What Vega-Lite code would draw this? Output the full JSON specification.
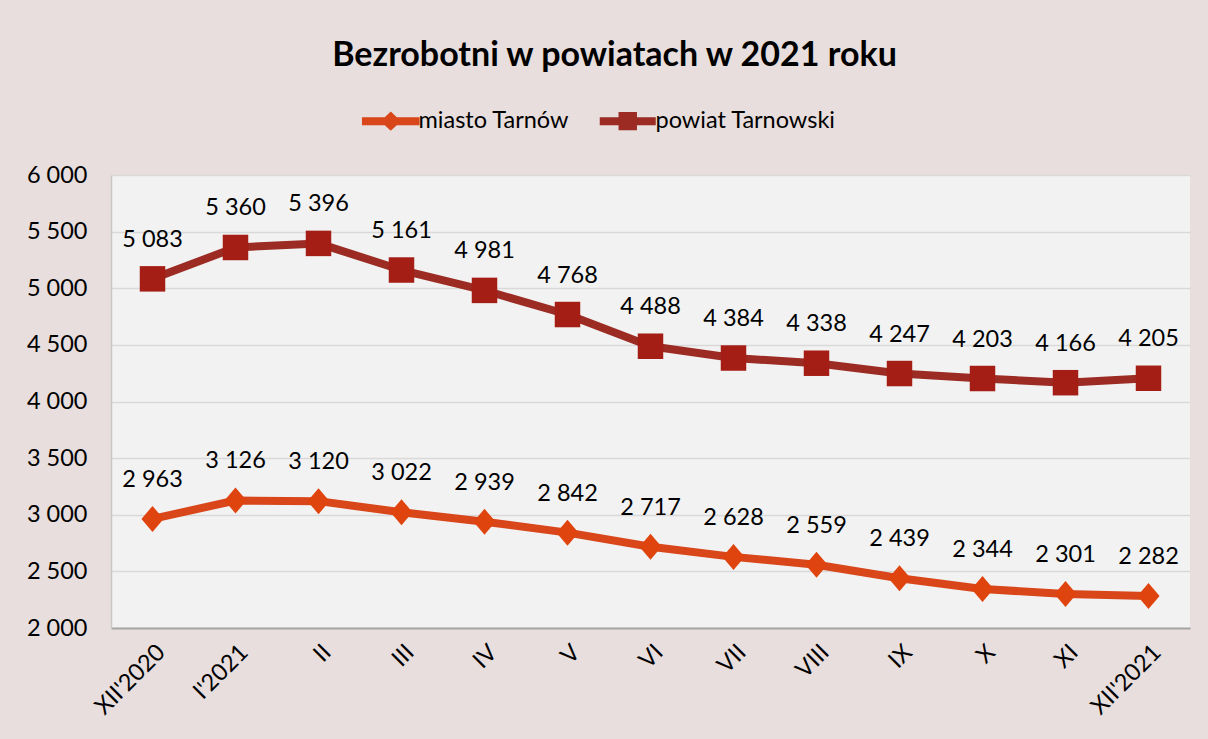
{
  "$schema": "https://vega.github.io/schema/vega-lite/v6.json",
  "width": 1079,
  "height": 453,
  "autosize": {"type": "none"},
  "padding": {"left": 111, "top": 175, "right": 18, "bottom": 111},
  "background": "#E7DEDD",
  "config": {
    "font": "Lato",
    "view": {"fill": "#F2F2F2", "stroke": null},
    "locale": {"number": {"decimal": ",", "thousands": " ", "grouping": [3], "currency": ["", " zł"]}}
  },
  "title": {
    "text": "Bezrobotni w powiatach w 2021 roku",
    "fontSize": 34,
    "fontWeight": "bold",
    "font": "Lato",
    "color": "#000000",
    "anchor": "middle",
    "dx": -36,
    "offset": 36
  },
  "data": {
    "values": [
      {"month": "XII'2020", "series": "miasto Tarnów", "value": 2963},
      {"month": "I'2021", "series": "miasto Tarnów", "value": 3126},
      {"month": "II", "series": "miasto Tarnów", "value": 3120},
      {"month": "III", "series": "miasto Tarnów", "value": 3022},
      {"month": "IV", "series": "miasto Tarnów", "value": 2939},
      {"month": "V", "series": "miasto Tarnów", "value": 2842},
      {"month": "VI", "series": "miasto Tarnów", "value": 2717},
      {"month": "VII", "series": "miasto Tarnów", "value": 2628},
      {"month": "VIII", "series": "miasto Tarnów", "value": 2559},
      {"month": "IX", "series": "miasto Tarnów", "value": 2439},
      {"month": "X", "series": "miasto Tarnów", "value": 2344},
      {"month": "XI", "series": "miasto Tarnów", "value": 2301},
      {"month": "XII'2021", "series": "miasto Tarnów", "value": 2282},
      {"month": "XII'2020", "series": "powiat Tarnowski", "value": 5083},
      {"month": "I'2021", "series": "powiat Tarnowski", "value": 5360},
      {"month": "II", "series": "powiat Tarnowski", "value": 5396},
      {"month": "III", "series": "powiat Tarnowski", "value": 5161},
      {"month": "IV", "series": "powiat Tarnowski", "value": 4981},
      {"month": "V", "series": "powiat Tarnowski", "value": 4768},
      {"month": "VI", "series": "powiat Tarnowski", "value": 4488},
      {"month": "VII", "series": "powiat Tarnowski", "value": 4384},
      {"month": "VIII", "series": "powiat Tarnowski", "value": 4338},
      {"month": "IX", "series": "powiat Tarnowski", "value": 4247},
      {"month": "X", "series": "powiat Tarnowski", "value": 4203},
      {"month": "XI", "series": "powiat Tarnowski", "value": 4166},
      {"month": "XII'2021", "series": "powiat Tarnowski", "value": 4205}
    ]
  },
  "encoding": {
    "x": {
      "field": "month",
      "type": "ordinal",
      "sort": null,
      "scale": {"type": "point", "padding": 0.5},
      "axis": {
        "title": null,
        "labelAngle": -45,
        "labelFontSize": 23.5,
        "labelColor": "#000000",
        "labelPadding": 12,
        "ticks": false,
        "domainColor": "#A6A6A6",
        "domainWidth": 2,
        "grid": false
      }
    },
    "y": {
      "field": "value",
      "type": "quantitative",
      "scale": {"domain": [2000, 6000], "nice": false, "zero": false},
      "axis": {
        "title": null,
        "values": [2000, 2500, 3000, 3500, 4000, 4500, 5000, 5500, 6000],
        "format": ",d",
        "labelFontSize": 23.5,
        "labelColor": "#000000",
        "labelPadding": 24,
        "ticks": false,
        "domainColor": "#C8C8C8",
        "domainWidth": 1.5,
        "gridColor": "#D9D9D9",
        "gridWidth": 1.5
      }
    }
  },
  "layer": [
    {
      "transform": [{"filter": "datum.value < 0"}],
      "mark": {"type": "point", "filled": true, "opacity": 1},
      "encoding": {
        "color": {
          "field": "series",
          "type": "nominal",
          "scale": {"domain": ["miasto Tarnów", "powiat Tarnowski"], "range": ["#D8461A", "#9B2B23"]},
          "legend": {
            "title": null,
            "orient": "none",
            "direction": "horizontal",
            "legendX": 268,
            "legendY": -66,
            "labelFontSize": 23.5,
            "labelColor": "#000000",
            "labelFont": "Lato",
            "labelLimit": 400,
            "symbolSize": 256,
            "symbolStrokeWidth": 0,
            "symbolOpacity": 1,
            "labelOffset": 16,
            "columnPadding": 29
          }
        },
        "shape": {
          "field": "series",
          "type": "nominal",
          "scale": {"domain": ["miasto Tarnów", "powiat Tarnowski"], "range": ["M-3.6,-0.5 L-0.75,-0.5 L0,-1.2 L0.75,-0.5 L3.6,-0.5 L3.6,0.5 L0.75,0.5 L0,1.2 L-0.75,0.5 L-3.6,0.5 Z", "M-3.5,-0.5 L-1.15,-0.5 L-1.15,-1.15 L1.15,-1.15 L1.15,-0.5 L3.5,-0.5 L3.5,0.5 L1.15,0.5 L1.15,1.15 L-1.15,1.15 L-1.15,0.5 L-3.5,0.5 Z"]},
          "legend": {
            "title": null,
            "orient": "none",
            "direction": "horizontal",
            "legendX": 268,
            "legendY": -66,
            "labelFontSize": 23.5,
            "labelColor": "#000000",
            "labelFont": "Lato",
            "labelLimit": 400,
            "symbolSize": 256,
            "symbolStrokeWidth": 0,
            "symbolOpacity": 1,
            "labelOffset": 16,
            "columnPadding": 29
          }
        }
      }
    },
    {
      "mark": {"type": "line", "strokeWidth": 8, "strokeCap": "round", "strokeJoin": "round"},
      "encoding": {
        "color": {
          "field": "series",
          "type": "nominal",
          "scale": {"domain": ["miasto Tarnów", "powiat Tarnowski"], "range": ["#D8461A", "#9B2B23"]}
        }
      }
    },
    {
      "mark": {"type": "point", "filled": true, "opacity": 1},
      "encoding": {
        "fill": {
          "condition": {"test": "datum.series == 'miasto Tarnów'", "value": "#E0440E"},
          "value": "#A41E15"
        },
        "shape": {
          "condition": {"test": "datum.series == 'miasto Tarnów'", "value": "M-0.85,0 L0,-1 L0.85,0 L0,1 Z"},
          "value": "square"
        },
        "size": {
          "condition": {"test": "datum.series == 'miasto Tarnów'", "value": 676},
          "value": 650
        }
      }
    },
    {
      "mark": {"type": "text", "dy": -39, "baseline": "middle", "fontSize": 23.5, "color": "#000000"},
      "encoding": {
        "text": {"field": "value", "type": "quantitative", "format": ",d"}
      }
    }
  ]
}
